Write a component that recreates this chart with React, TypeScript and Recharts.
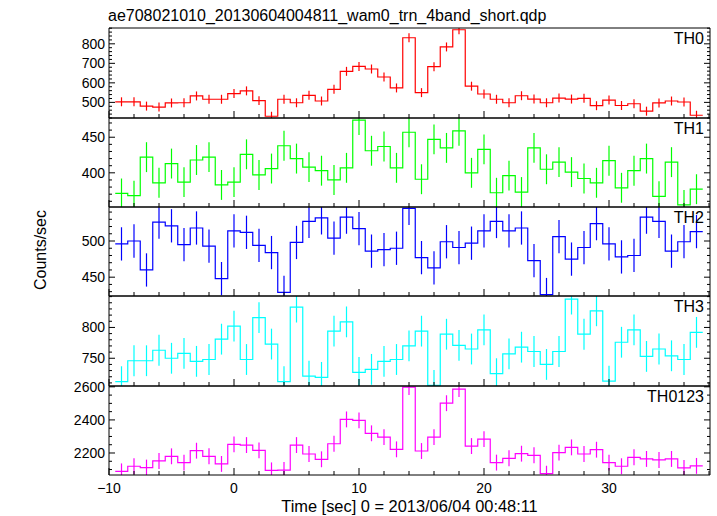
import React from 'react';
import { ComposedChart, Line, Scatter, ErrorBar, XAxis, YAxis } from 'recharts';

// ---------------- data ----------------
const binTimes = [
  -9, -8, -7, -6, -5, -4, -3, -2, -1, 0, 1, 2, 3, 4, 5, 6, 7, 8, 9, 10, 11, 12, 13, 14,
  15, 16, 17, 18, 19, 20, 21, 22, 23, 24, 25, 26, 27, 28, 29, 30, 31, 32, 33, 34, 35, 36, 37,
];

const th0 = [
  503, 503, 481, 476, 497, 498, 533, 516, 516, 545, 559, 509, 429, 516, 498, 536, 507, 567, 659, 684, 671, 630, 574, 831,
  550, 683, 784, 872, 583, 543, 516, 498, 534, 517, 498, 522, 517, 521, 483, 512, 484, 493, 455, 497, 507, 502, 434,
];
const th1 = [
  371, 368, 422, 386, 413, 387, 418, 422, 383, 387, 426, 397, 406, 438, 420, 408, 403, 390, 407, 474, 431, 437, 407, 457,
  391, 447, 435, 459, 400, 433, 372, 396, 373, 435, 405, 415, 401, 392, 386, 417, 379, 403, 420, 367, 415, 355, 377,
];
const th2 = [
  496, 500, 460, 526, 521, 495, 518, 493, 448, 514, 512, 494, 484, 429, 498, 527, 532, 504, 533, 517, 486, 488, 490, 545,
  477, 463, 499, 491, 497, 514, 527, 514, 518, 473, 426, 506, 475, 491, 524, 496, 478, 480, 533, 527, 486, 499, 513,
];
const th3 = [
  712, 746, 746, 763, 750, 758, 745, 748, 781, 802, 748, 816, 773, 712, 833, 721, 719, 794, 809, 727, 732, 745, 748, 770,
  794, 706, 789, 771, 765, 796, 725, 757, 768, 761, 740, 761, 846, 789, 827, 713, 776, 796, 753, 765, 754, 748, 792,
];
const th0123 = [
  2089, 2120, 2112, 2152, 2180, 2142, 2214, 2180, 2134, 2252, 2248, 2216, 2095, 2097, 2248, 2194, 2162, 2256, 2403, 2397, 2319, 2296, 2222, 2598,
  2212, 2296, 2501, 2586, 2242, 2284, 2142, 2168, 2196, 2186, 2075, 2202, 2234, 2194, 2220, 2142, 2120, 2174, 2164, 2158, 2164, 2110, 2122,
];

// typical 1-sigma error per band
const errTH0 = 23;
const errTH1 = 21;
const errTH2 = 23;
const errTH3 = 25;
const errTH0123 = 48;

const panelNames = ['TH0', 'TH1', 'TH2', 'TH3', 'TH0123'];
const yLabelTicks = [
  [500, 600, 700, 800],
  [400, 450],
  [450, 500],
  [750, 800],
  [2200, 2400, 2600],
];
const xLabelTicks = [-10, 0, 10, 20, 30];

const title = 'ae708021010_20130604004811_wam0_trn_4band_short.qdp';
const xTitle = 'Time [sec] 0 = 2013/06/04 00:48:11';
const yTitle = 'Counts/sec';

// ---------------- layout / style ----------------
const W = 717;
const H = 516;
const LEFT = 109;
const RIGHT = 710;
const TOPS = [28, 118, 207, 296, 386];
const BOTTOMS = [118, 207, 296, 386, 475];
const FONT = '"Liberation Sans", Arial, Helvetica, sans-serif';
const X_DOMAIN: [number, number] = [-10, 38.08];

const panels = [
  { values: th0, err: errTH0, color: '#ff0000', domain: [420, 881], minor: 20 },
  { values: th1, err: errTH1, color: '#00ff00', domain: [352, 477], minor: 10 },
  { values: th2, err: errTH2, color: '#0000ff', domain: [424, 547], minor: 10 },
  { values: th3, err: errTH3, color: '#00ffff', domain: [705, 851], minor: 10 },
  { values: th0123, err: errTH0123, color: '#ff00ff', domain: [2067, 2605], minor: 50 },
];

const xTicks: number[] = [];
for (let v = -10; v <= 38; v += 2) xTicks.push(v);

function rangeTicks(domain: number[], step: number) {
  const out: number[] = [];
  const start = Math.ceil(domain[0] / step) * step;
  for (let v = start; v <= domain[1]; v += step) out.push(v);
  return out;
}

function stepData(values: number[]) {
  const out: { x: number; y: number }[] = [];
  binTimes.forEach((t, i) => {
    out.push({ x: t - 0.5, y: values[i] });
    out.push({ x: t + 0.5, y: values[i] });
  });
  return out;
}

function centerData(values: number[], err: number) {
  return binTimes.map((t, i) => ({ x: t, y: values[i], err }));
}

const fmt = (v: number) => (v < 0 ? '\u2212' + Math.abs(v) : String(v));

function Panel({ idx, layer }: { idx: number; layer: 'axes' | 'data' }) {
  const p = panels[idx];
  const top = TOPS[idx];
  const bottom = BOTTOMS[idx];
  const isLast = idx === panels.length - 1;
  const yTicks = rangeTicks(p.domain, p.minor);
  const labels = yLabelTicks[idx];
  const showAxes = layer === 'axes';

  const xTickBottom = (props: any) => {
    const { x, payload } = props;
    const v = payload.value;
    const major = xLabelTicks.includes(v);
    const len = major ? 7 : 4;
    return (
      <g>
        <line x1={x} x2={x} y1={bottom} y2={bottom - len} stroke="#000" strokeWidth={1} />
        {isLast && major ? (
          <text x={x} y={bottom + 18} textAnchor="middle" fontFamily={FONT} fontSize={14} fill="#000">
            {fmt(v)}
          </text>
        ) : null}
      </g>
    );
  };
  const xTickTop = (props: any) => {
    const { x, payload } = props;
    const major = xLabelTicks.includes(payload.value);
    const len = major ? 7 : 4;
    return <line x1={x} x2={x} y1={top} y2={top + len} stroke="#000" strokeWidth={1} />;
  };
  const yTickLeft = (props: any) => {
    const { y, payload } = props;
    const v = payload.value;
    const major = labels.includes(v);
    const len = major ? 6 : 3;
    return (
      <g>
        <line x1={LEFT} x2={LEFT + len} y1={y} y2={y} stroke="#000" strokeWidth={1} />
        {major ? (
          <text x={LEFT - 4} y={y} dy="0.36em" textAnchor="end" fontFamily={FONT} fontSize={14} fill="#000">
            {fmt(v)}
          </text>
        ) : null}
      </g>
    );
  };
  const yTickRight = (props: any) => {
    const { y, payload } = props;
    const major = labels.includes(payload.value);
    const len = major ? 6 : 3;
    return <line x1={RIGHT} x2={RIGHT - len} y1={y} y2={y} stroke="#000" strokeWidth={1} />;
  };

  const axisLine = showAxes ? { stroke: '#000' } : false;
  const clip = showAxes
    ? undefined
    : `inset(${top}px ${W - RIGHT}px ${H - bottom}px ${LEFT}px)`;

  return (
    <div style={{ position: 'absolute', left: 0, top: 0, width: W, height: H, clipPath: clip }}>
      <ComposedChart
        width={W}
        height={H}
        margin={{ top: top - 1, bottom: H - bottom - 1, left: LEFT - 1, right: W - RIGHT - 1 }}
      >
        <XAxis
          xAxisId="b"
          orientation="bottom"
          type="number"
          dataKey="x"
          domain={X_DOMAIN}
          allowDataOverflow
          ticks={xTicks}
          interval={0}
          height={1}
          tickLine={false}
          tickSize={0}
          axisLine={axisLine}
          tick={showAxes ? xTickBottom : false}
        />
        <XAxis
          xAxisId="t"
          orientation="top"
          type="number"
          domain={X_DOMAIN}
          allowDataOverflow
          ticks={xTicks}
          interval={0}
          height={1}
          tickLine={false}
          tickSize={0}
          axisLine={axisLine}
          tick={showAxes ? xTickTop : false}
        />
        <YAxis
          yAxisId="l"
          orientation="left"
          type="number"
          dataKey="y"
          domain={p.domain}
          allowDataOverflow
          ticks={yTicks}
          interval={0}
          width={1}
          tickLine={false}
          tickSize={0}
          axisLine={axisLine}
          tick={showAxes ? yTickLeft : false}
        />
        <YAxis
          yAxisId="r"
          orientation="right"
          type="number"
          domain={p.domain}
          allowDataOverflow
          ticks={yTicks}
          interval={0}
          width={1}
          tickLine={false}
          tickSize={0}
          axisLine={axisLine}
          tick={showAxes ? yTickRight : false}
        />
        {showAxes ? null : (
          <Line
            xAxisId="b"
            yAxisId="l"
            data={stepData(p.values)}
            dataKey="y"
            type="linear"
            stroke={p.color}
            strokeWidth={1.2}
            dot={false}
            isAnimationActive={false}
          />
        )}
        {showAxes ? null : (
          <Scatter
            xAxisId="b"
            yAxisId="l"
            data={centerData(p.values, p.err)}
            dataKey="y"
            fill={p.color}
            shape={() => <g />}
            isAnimationActive={false}
          >
            <ErrorBar dataKey="err" direction="y" width={0} stroke={p.color} strokeWidth={1.2} />
          </Scatter>
        )}
      </ComposedChart>
    </div>
  );
}

export default function App() {
  return (
    <div style={{ position: 'absolute', left: 0, top: 0, width: W, height: H, background: '#fff' }}>
      {panels.map((_, i) => (
        <Panel key={'d' + i} idx={i} layer="data" />
      ))}
      {panels.map((_, i) => (
        <Panel key={'a' + i} idx={i} layer="axes" />
      ))}
      <svg
        width={W}
        height={H}
        style={{ position: 'absolute', left: 0, top: 0, pointerEvents: 'none' }}
        fontFamily={FONT}
      >
        <text x={108} y={21} fontSize={16} fill="#000">
          {title}
        </text>
        {panelNames.map((n, i) => (
          <text key={n} x={RIGHT - 6} y={TOPS[i] + 16} textAnchor="end" fontSize={16} fill="#000">
            {n}
          </text>
        ))}
        <text x={(LEFT + RIGHT) / 2} y={512} textAnchor="middle" fontSize={16.4} fill="#000">
          {xTitle}
        </text>
        <text x={46} y={250} textAnchor="middle" fontSize={16} fill="#000" transform="rotate(-90 46 250)">
          {yTitle}
        </text>
      </svg>
    </div>
  );
}
